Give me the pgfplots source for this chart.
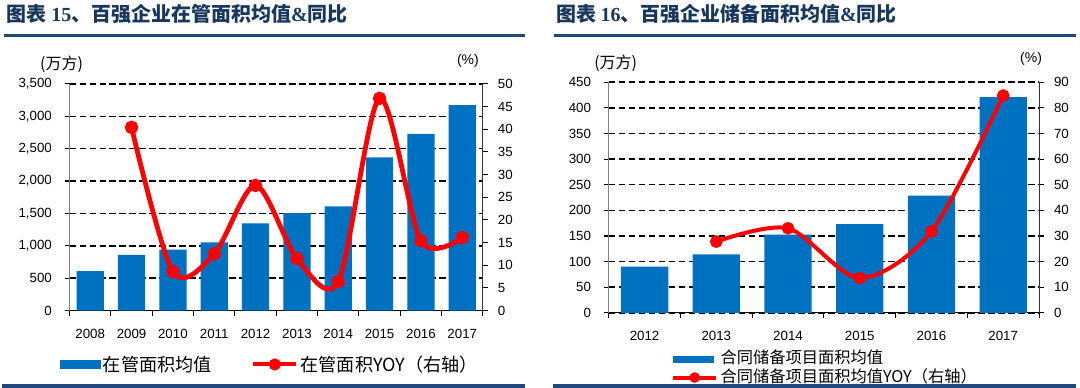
\documentclass[border=0pt]{standalone}
\usepackage{fontspec}
\setmainfont{Liberation Sans}
\newfontfamily\cjk{Noto Sans CJK SC}
\newfontfamily\titleserif{Liberation Serif}
\usepackage{pgfplots}
\pgfplotsset{compat=1.18}
\definecolor{barblue}{RGB}{0,112,192}
\definecolor{yoyred}{RGB}{255,0,0}
\definecolor{navy}{RGB}{31,73,125}
\definecolor{titleblue}{RGB}{23,55,94}

\pgfplotsset{
  panel/.style={
    scale only axis, anchor=south west,
    tick align=outside, major tick length=3.75pt, minor tick length=3.75pt,
    tick style={black, line width=0.8pt},
    axis line style={line width=0.8pt},
    ticklabel style={font=\fontsize{10}{12}\selectfont},
    /pgf/number format/assume math mode=true,
  },
  barpanel/.style={
    panel,
    axis x line*=bottom, axis y line*=left,
    y axis line style={gray},
    major x tick style={draw=none},
    ymajorgrids,
    major grid style={draw=black, line width=1.1pt, dash pattern=on 5pt off 2.5pt},
    yticklabel style={/pgf/number format/1000 sep={,}, xshift=-6pt},
    xticklabel style={yshift=-6.5pt},
  },
  linepanel/.style={
    panel,
    axis x line=none, axis y line*=right,
    y axis line style={black!80},
    yticklabel style={xshift=4pt},
  },
  barlegend/.style={legend image code/.code={\fill[barblue] (0pt,-#1) rectangle (29.6pt,#1);}},
  linelegend/.style={legend image code/.code={\draw[##1, line width=3pt, mark size=#1, mark repeat=2, mark phase=2]
        plot coordinates {(0pt,0pt) (16pt,0pt) (32pt,0pt)};}},
}

\begin{document}
\begin{tikzpicture}
\fill[white] (0,0) rectangle (810pt,-291pt);

% ---------- left panel ----------
\begin{axis}[barpanel,
    at={(51pt,-233.25pt)}, width=310.5pt, height=170.25pt,
    xmin=-0.5, xmax=9.5, ymin=0, ymax=3500,
    xtick={0,...,9},
    xticklabels={2008,2009,2010,2011,2012,2013,2014,2015,2016,2017},
    minor xtick={-0.5,0.5,...,9.5},
    ytick={0,500,...,3500}]
\addplot[ybar, bar width=0.66, fill=barblue, draw=none] coordinates {
    (0,610) (1,860) (2,940) (3,1053) (4,1346)
    (5,1506) (6,1608) (7,2364) (8,2729) (9,3171)
};
\end{axis}
\begin{axis}[linepanel,
    at={(51pt,-233.25pt)}, width=310.5pt, height=170.25pt,
    xmin=-0.5, xmax=9.5, ymin=0, ymax=50,
    ytick={0,5,...,50},
    legend columns=2,
    legend style={at={(-0.023,-0.238)}, anchor=west, draw=none, fill=none,
        inner sep=0pt, font=\cjk\fontsize{13.6}{16}\selectfont,
        /tikz/every even column/.append style={column sep=28pt}},
    legend cell align=left]
\addlegendimage{barlegend=3.2pt}
\addlegendentry{在管面积均值}
\addplot[yoyred, line width=3.6pt, mark=*, mark size=3.2pt, smooth, tension=0.5, linelegend=3pt]
    coordinates {
    (1,40.4) (2,8.6) (3,12.5) (4,27.6) (5,11.5)
    (6,6.4) (7,46.8) (8,15.4) (9,16.1)
};
\addlegendentry{在管面积YOY（右轴）}
\end{axis}

% ---------- right panel ----------
\begin{axis}[barpanel,
    at={(456pt,-235pt)}, width=323.25pt, height=173.25pt,
    xmin=-0.5, xmax=5.5, ymin=0, ymax=450,
    xtick={0,...,5},
    xticklabels={2012,2013,2014,2015,2016,2017},
    minor xtick={-0.5,0.5,...,5.5},
    ytick={0,50,...,450}]
\addplot[ybar, bar width=0.66, fill=barblue, draw=none] coordinates {
    (0,90) (1,114) (2,152.5) (3,173) (4,228.5) (5,421)
};
\end{axis}
\begin{axis}[linepanel,
    at={(456pt,-235pt)}, width=323.25pt, height=173.25pt,
    xmin=-0.5, xmax=5.5, ymin=0, ymax=90,
    ytick={0,10,...,90},
    legend style={at={(0.145,-0.24)}, anchor=west, draw=none, fill=none,
        inner sep=0pt, font=\cjk\fontsize{12.2}{14}\selectfont,
        nodes={inner ysep=1pt, text height=9.5pt, text depth=2.5pt}},
    legend cell align=left]
\addlegendimage{barlegend=2.3pt}
\addlegendentry{合同储备项目面积均值}
\addplot[yoyred, line width=3pt, mark=*, mark size=3.2pt, smooth, tension=0.5, linelegend=2.4pt]
    coordinates {
    (1,27.8) (2,33.0) (3,13.6) (4,31.8) (5,84.8)
};
\addlegendentry{合同储备项目面积均值YOY（右轴）}
\end{axis}

% ---------- titles, units and rules ----------
\begin{scope}[x=0.75pt, y=-0.75pt]
\node[anchor=west, inner sep=0pt, text=titleblue, font=\cjk\bfseries\fontsize{15}{17}\selectfont]
    at (5,14) {图表 {\titleserif\bfseries 15}、百强企业在管面积均值{\titleserif\bfseries\&}同比};
\node[anchor=west, inner sep=0pt, text=titleblue, font=\cjk\bfseries\fontsize{15}{17}\selectfont]
    at (555,14) {图表 {\titleserif\bfseries 16}、百强企业储备面积均值{\titleserif\bfseries\&}同比};
\draw[navy, line width=2.25pt] (2,35.5) -- (524,35.5);
\draw[navy, line width=2.25pt] (553,35.5) -- (1076,35.5);
\draw[navy, line width=2.5pt] (0,386.5) -- (524,386.5);
\draw[navy, line width=2.5pt] (552,386.5) -- (1076,386.5);
\node[font=\cjk\fontsize{12}{14}\selectfont, inner sep=0pt] at (60,64) {(万方)};
\node[font=\cjk\fontsize{12}{14}\selectfont, inner sep=0pt] at (615,63) {(万方)};
\node[font=\fontsize{10.5}{12}\selectfont, inner sep=0pt] at (467,61) {(\%)};
\node[font=\fontsize{10.5}{12}\selectfont, inner sep=0pt] at (1031,59) {(\%)};
\end{scope}
\end{tikzpicture}
\end{document}
